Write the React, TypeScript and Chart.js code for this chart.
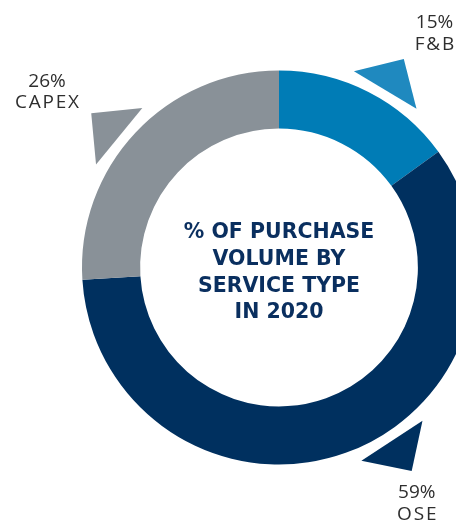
import { useEffect, useRef } from "react";
import { Chart, registerables } from "chart.js";

Chart.register(...registerables);

// ---- data ----
const categories = ["F&B", "OSE", "CAPEX"];
const shares = [15, 59, 26];
const centerTitle = ["% OF PURCHASE", "VOLUME BY", "SERVICE TYPE", "IN 2020"];

// ---- styles / layout ----
const segmentColors = ["#007CB6", "#00305F", "#899198"];
const arrowColors = ["#1F89BF", "#00305F", "#899198"];
const arrowAngles = [30.9, 146.9, 309.4]; // degrees clockwise from 12 o'clock
const labelOffsets: [number, number][] = [
  [155.5, -239.2],
  [137.8, 230.8],
  [-232, -180.8],
];

const decorPlugin = {
  id: "decor",
  afterDatasetsDraw(chart: any) {
    const meta = chart.getDatasetMeta(0);
    const arc = meta.data[0];
    if (!arc) return;
    const { x: cx, y: cy, outerRadius } = arc.getProps(["x", "y", "outerRadius"], true);
    const ctx: CanvasRenderingContext2D = chart.ctx;
    ctx.save();
    const toXY = (d: number, r: number): [number, number] => {
      const a = ((d - 90) * Math.PI) / 180;
      return [cx + r * Math.cos(a), cy + r * Math.sin(a)];
    };
    arrowAngles.forEach((deg, i) => {
      const rb = outerRadius + 13;
      const ra = outerRadius + 46;
      const p1 = toXY(deg - 10, rb);
      const p2 = toXY(deg + 10, rb);
      const p3 = toXY(deg, ra);
      ctx.beginPath();
      ctx.moveTo(p1[0], p1[1]);
      ctx.lineTo(p3[0], p3[1]);
      ctx.lineTo(p2[0], p2[1]);
      ctx.closePath();
      ctx.fillStyle = arrowColors[i];
      ctx.fill();
    });

    // center title
    ctx.fillStyle = "#0A2F5F";
    ctx.font = "bold 20.5px 'DejaVu Sans'";
    ctx.textAlign = "center";
    ctx.textBaseline = "alphabetic";
    centerTitle.forEach((line, i) => {
      ctx.fillText(line, cx, cy + (i - 1.5) * 26.67 + 10.8);
    });

    // outer labels
    ctx.fillStyle = "#2E2E2E";
    ctx.font = "19px 'Open Sans'";
    categories.forEach((cat, i) => {
      const [dx, dy] = labelOffsets[i];
      (ctx as any).letterSpacing = "0px";
      ctx.fillText(`${shares[i]}%`, cx + dx, cy + dy);
      (ctx as any).letterSpacing = "1.8px";
      ctx.fillText(cat, cx + dx + 0.9, cy + dy + 21.7);
    });
    ctx.restore();
  },
};

export default function App() {
  const ref = useRef<HTMLCanvasElement>(null);
  useEffect(() => {
    const chart = new Chart(ref.current!, {
      type: "doughnut",
      data: {
        labels: categories,
        datasets: [
          {
            data: shares,
            backgroundColor: segmentColors,
            borderWidth: 0,
            hoverOffset: 0,
            radius: 197,
            cutout: "70.5%",
            clip: false,
          } as any,
        ],
      },
      options: {
        responsive: false,
        animation: false,
        events: [],
        layout: { padding: { left: 102, top: 15, right: 0, bottom: 0 } },
        plugins: { legend: { display: false }, tooltip: { enabled: false } },
      },
      plugins: [decorPlugin],
    });
    return () => chart.destroy();
  }, []);
  return (
    <div
      style={{
        position: "absolute",
        left: 0,
        top: 0,
        width: 456,
        height: 520,
        overflow: "hidden",
        background: "#fff",
      }}
    >
      <canvas ref={ref} width={456} height={520} style={{ display: "block" }} />
    </div>
  );
}
